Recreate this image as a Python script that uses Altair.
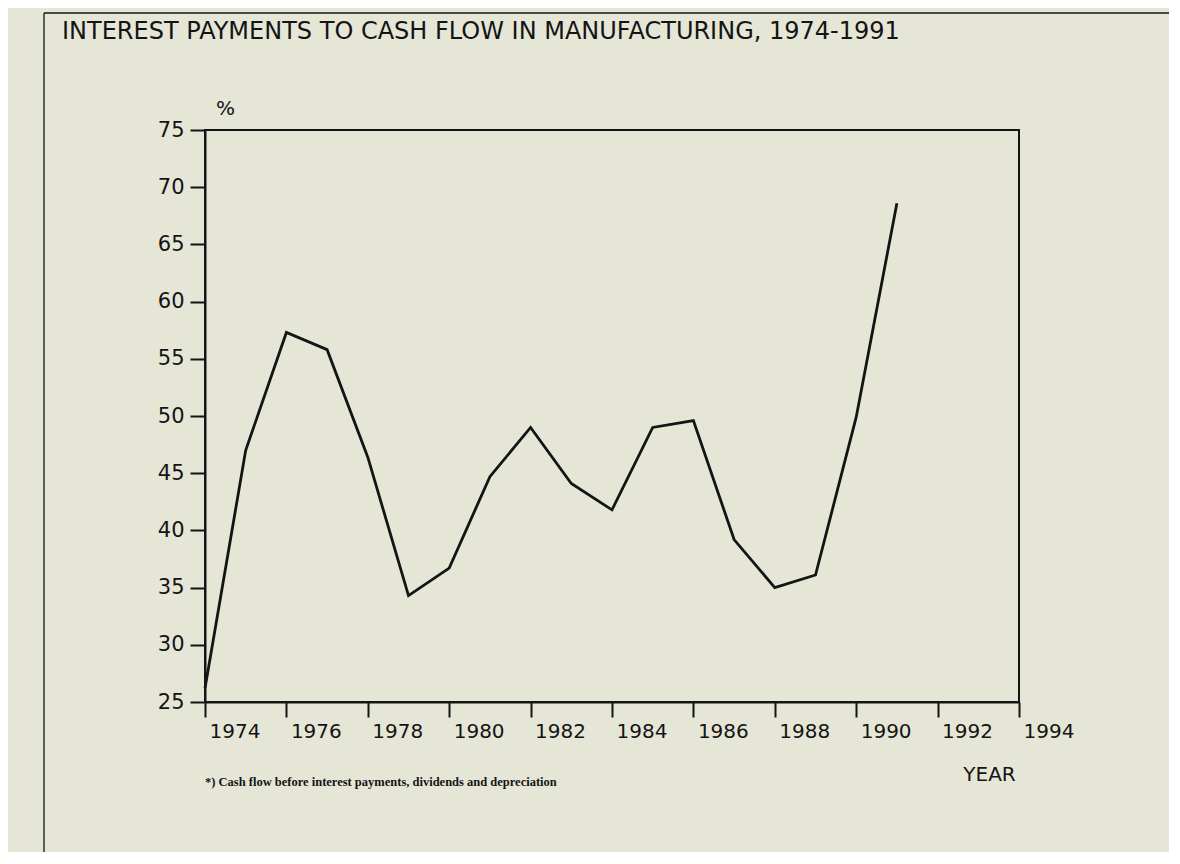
import altair as alt
import pandas as pd

years = list(range(1974, 1992))
values = [26.2, 47.0, 57.3, 55.8, 46.4, 34.3, 36.7, 44.7, 49.0, 44.1,
          41.8, 49.0, 49.6, 39.2, 35.0, 36.1, 49.9, 68.6]
x_ticks = list(range(1974, 1995, 2))
y_ticks = list(range(25, 80, 5))

title_text = "INTEREST PAYMENTS TO CASH FLOW IN MANUFACTURING, 1974-1991"
footnote = "*) Cash flow before interest payments, dividends and depreciation"

df = pd.DataFrame({"year": years, "value": values})

BG = "#e6e6d7"
INK = "#141414"
SANS = "DejaVu Sans"

W, H = 814, 572

line = alt.Chart(df).mark_line(color=INK, strokeWidth=2.8).encode(
    x=alt.X("year:Q",
            scale=alt.Scale(domain=[1974, 1994], nice=False, zero=False),
            axis=alt.Axis(values=x_ticks, format="d", title="YEAR",
                          labelAlign="left", labelOffset=4, labelBaseline="top",
                          labelPadding=4, labelFlush=False, labelOverlap=False,
                          tickSize=15, titleX=784, titleY=72,
                          titleAlign="center", titleBaseline="middle")),
    y=alt.Y("value:Q",
            scale=alt.Scale(domain=[25, 75], nice=False, zero=False),
            axis=alt.Axis(values=y_ticks, title="%", titleAngle=0,
                          titleX=20, titleY=-22, titleAlign="center",
                          titleBaseline="middle", tickSize=15, labelPadding=6,
                          labelFontSize=21)),
)

frame_top = alt.Chart().mark_rule(color=INK, strokeWidth=1.3).encode(
    x=alt.value(-161), x2=alt.value(1200), y=alt.value(-117))
frame_left = alt.Chart().mark_rule(color=INK, strokeWidth=1.3).encode(
    x=alt.value(-161), y=alt.value(-117), y2=alt.value(900))

title = alt.Chart().mark_text(
    align="left", baseline="middle", font=SANS, fontSize=24, color=INK
).encode(x=alt.value(-143), y=alt.value(-98), text=alt.value(title_text))

note = alt.Chart().mark_text(
    align="left", baseline="middle", font="Liberation Serif", fontWeight="bold",
    fontSize=12.5, color=INK
).encode(x=alt.value(0), y=alt.value(652), text=alt.value(footnote))

chart = alt.layer(line, frame_top, frame_left, title, note).properties(
    width=W, height=H,
    padding={"left": 197, "top": 122, "right": 150, "bottom": 150},
    autosize=alt.AutoSizeParams(type="none"),
    background=BG,
).configure_view(
    stroke=INK, strokeWidth=2
).configure_axis(
    domainColor=INK, domainWidth=2, tickColor=INK, tickWidth=2,
    labelColor=INK, titleColor=INK, labelFont=SANS, titleFont=SANS,
    labelFontSize=20, titleFontSize=20, titleFontWeight="normal",
    grid=False,
)

chart.save("out.html", embed_options={"renderer": "svg", "actions": False})
